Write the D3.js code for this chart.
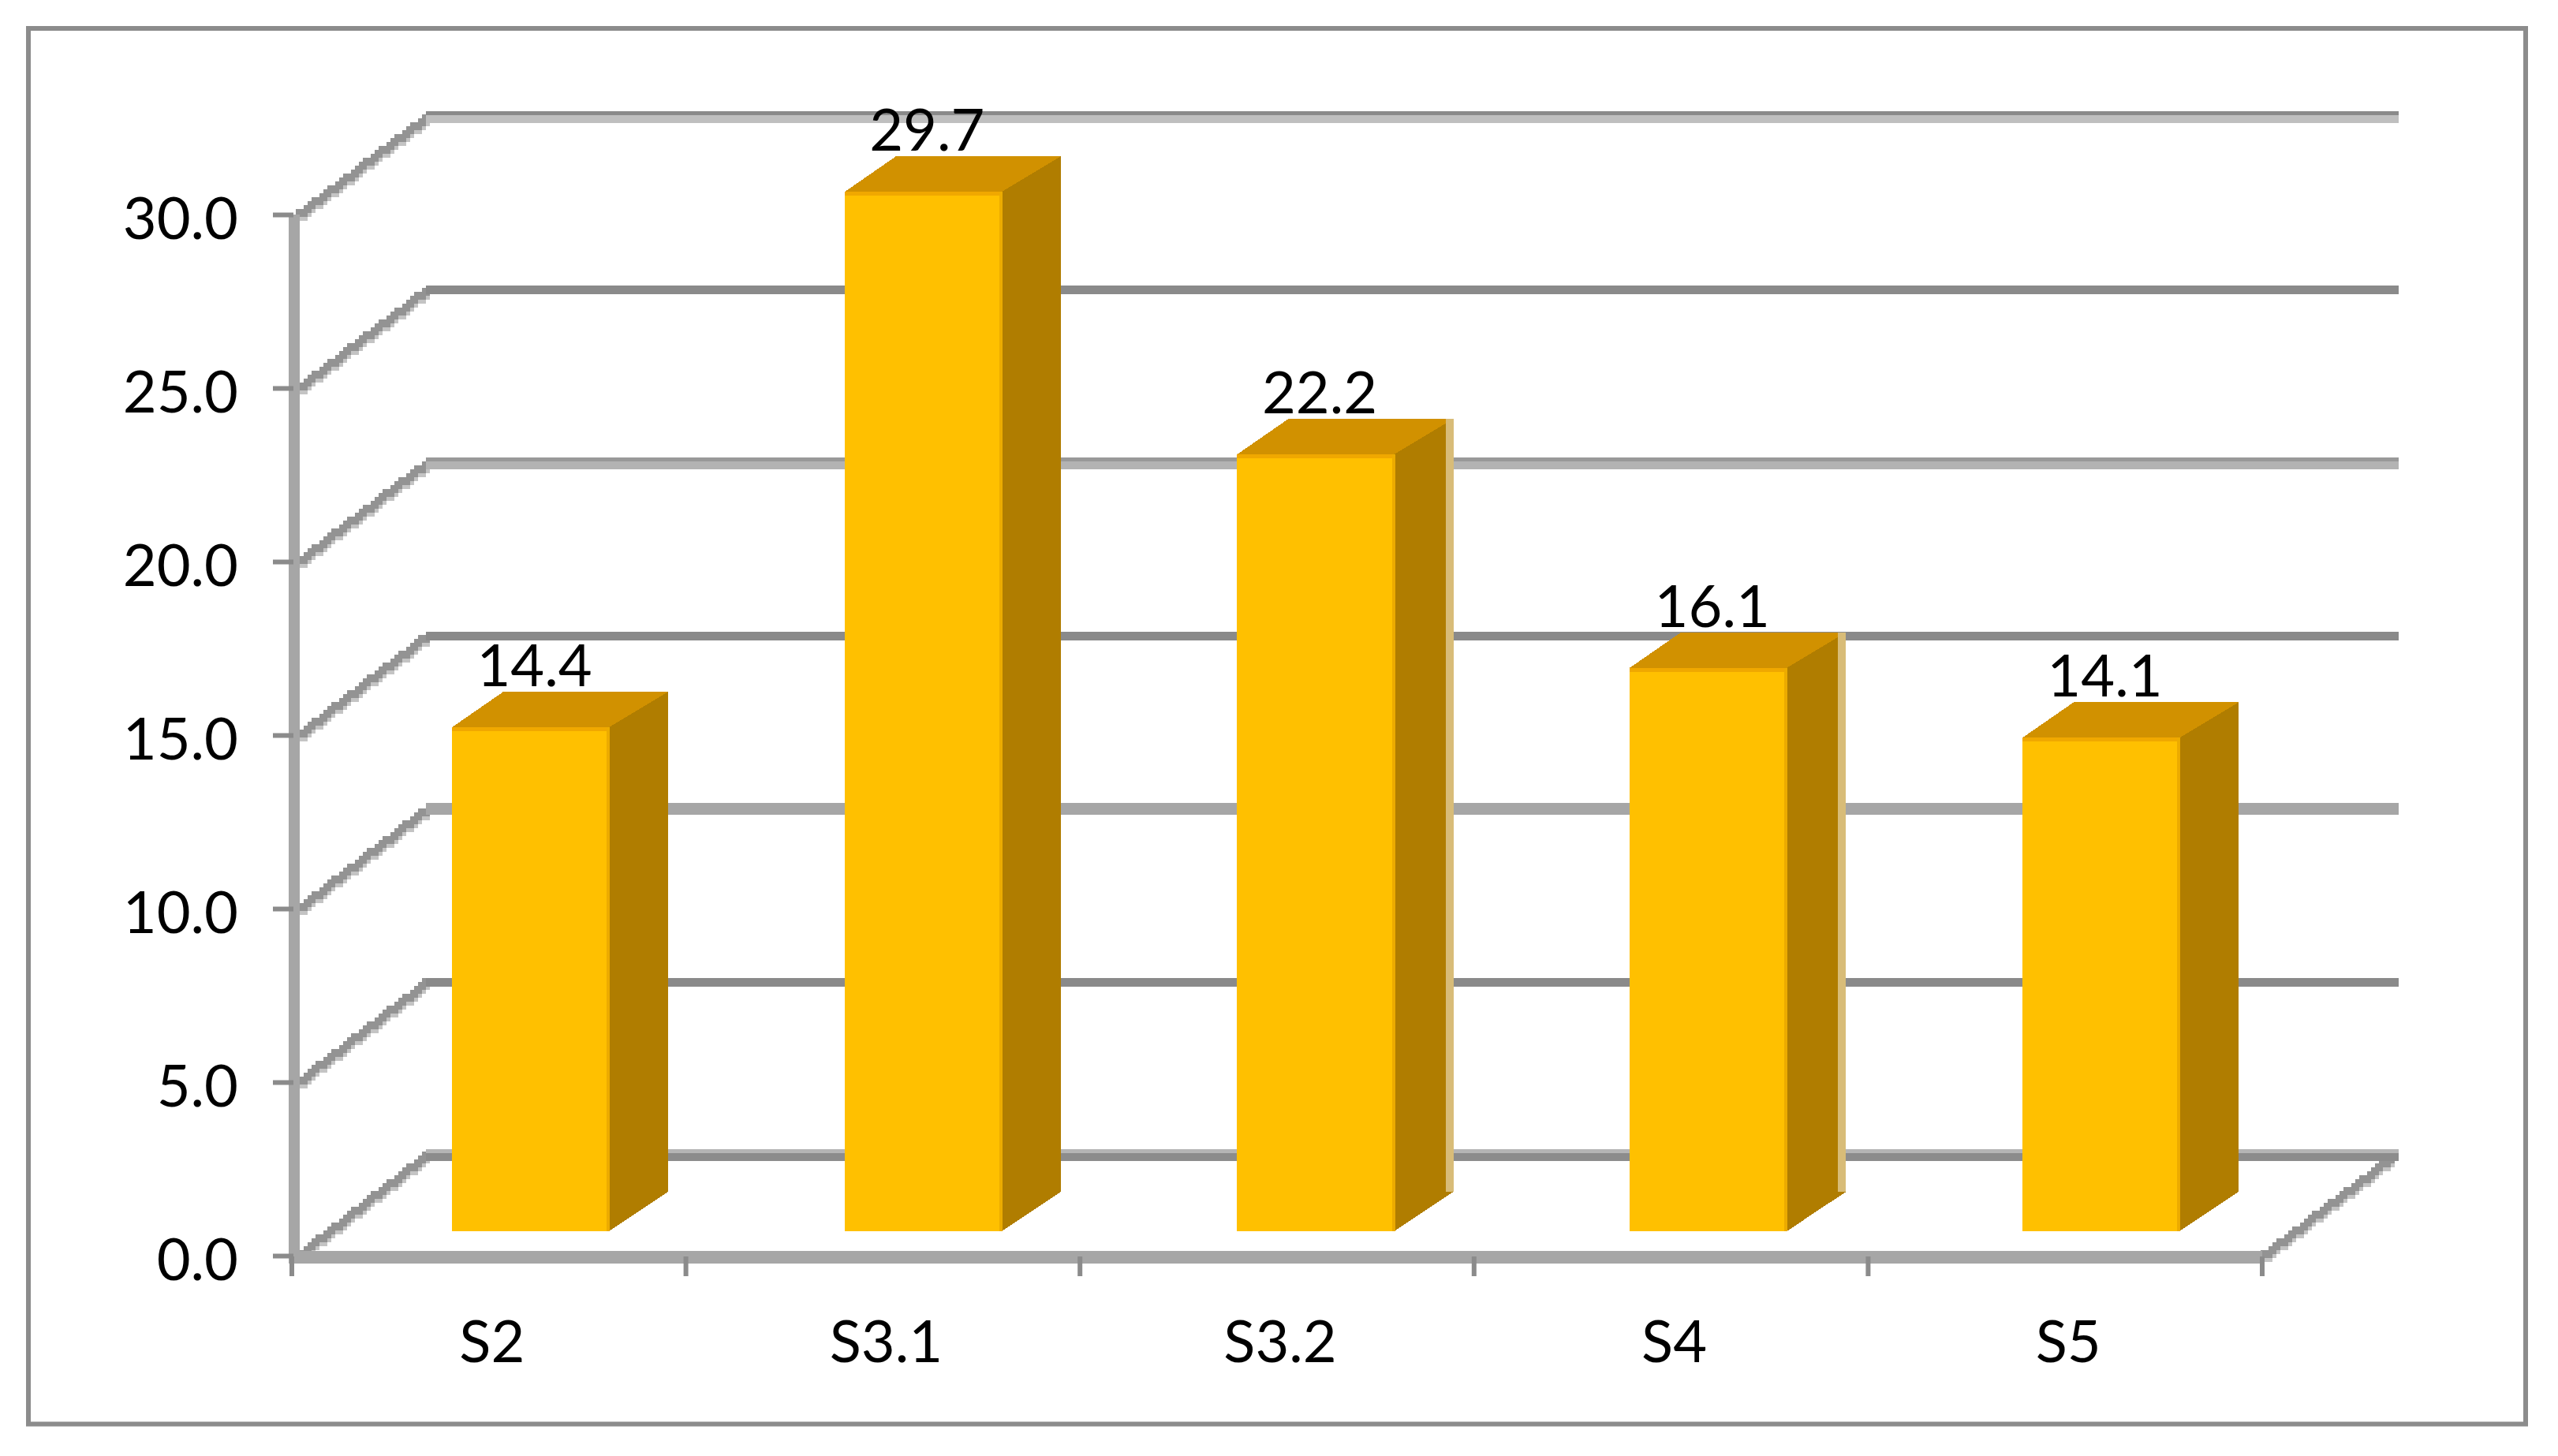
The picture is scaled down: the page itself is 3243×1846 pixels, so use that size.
<!DOCTYPE html>
<html><head><meta charset="utf-8">
<script src="https://cdn.jsdelivr.net/npm/d3@7"></script>
<style>html,body{margin:0;padding:0;background:#fff}svg{display:block}text{font-family:Lato,Carlito,sans-serif;fill:#000}</style>
</head><body><svg id="c" width="3243" height="1846"></svg>
<script>
const categories = ["S2","S3.1","S3.2","S4","S5"];
const values = [14.4,29.7,22.2,16.1,14.1];
const axisTicks = [0,5,10,15,20,25,30];
const paleEdgeCategories = ["S3.2","S4"];
const svg = d3.select("#c");
const W=3243,H=1846;
const x=d3.scaleBand().domain(categories).range([370,2868]).paddingInner(0.6).paddingOuter(0.3);
const xBar=d3.scaleBand().domain(categories).range([573,2763]).paddingInner(0.6).paddingOuter(0);
const y=d3.scaleLinear().domain([0,30]).range([1592,272]);
const yBack=d3.scaleLinear().domain([0,30]).range([1464.5,148.5]);
const barY=d3.scaleLinear().domain([0,30]).range([1561,230]);
const fs=74;
const DARK="#8a8a8a",LIGHT="#bfbfbf",MID="#a6a6a6";
// how each back-wall band is painted: [height, colour] from the top down
const gridBands=new Map([
 [30,[[5,DARK],[10,LIGHT]]],
 [25,[[11,DARK]]],
 [20,[[5,"#999"],[10,"#b3b3b3"]]],
 [15,[[11,DARK]]],
 [10,[[15,MID]]],
 [5,[[11,DARK]]],
 [0,[[5,"#b5b5b5"],[10,"#8c8c8c"]]]
]);
svg.append("rect").attr("width",W).attr("height",H).attr("fill","#fff");
svg.append("rect").attr("x",36).attr("y",36).attr("width",3166).attr("height",1769.5).attr("fill","#fff").attr("stroke","#8c8c8c").attr("stroke-width",6);
const x0=372,x1=2866,xB0=540,xB1=3041;
// stepped side-wall diagonals, built from the scales
function stair(g,xa,ya,xb,yb){
  const s=(yb-ya)/(xb-xa),cell=5;
  for(let px=xa;px<xb-4;px+=cell){
    const py=Math.round((ya+(px-xa)*s)/cell)*cell;
    g.append("rect").attr("x",px+cell).attr("y",py+5).attr("width",cell).attr("height",cell).attr("fill","#c4c4c4");
    g.append("rect").attr("x",px).attr("y",py-5).attr("width",cell*2).attr("height",cell*2).attr("fill","#939393");
  }
}
const diag=svg.append("g").attr("shape-rendering","crispEdges");
axisTicks.forEach(t=>stair(diag,x0+3,y(t),xB0,yBack(t)-2));
stair(diag,x1,y(0),xB1-8,yBack(0));
// back wall gridlines
const grid=svg.append("g").attr("shape-rendering","crispEdges");
axisTicks.forEach(t=>{
  const bands=gridBands.get(t);
  let top=Math.round(yBack(t)-d3.sum(bands,b=>b[0])/2);
  bands.forEach(([h,c])=>{
    grid.append("rect").attr("x",xB0).attr("width",xB1-xB0).attr("y",top).attr("height",h).attr("fill",c);
    top+=h;
  });
});
// axes
svg.append("rect").attr("x",366).attr("y",y(30)).attr("width",14).attr("height",y(0)-y(30)+10).attr("fill",MID);
svg.append("rect").attr("x",366).attr("y",1586).attr("width",x1-366+2).attr("height",16).attr("fill",MID);
const yAxis=d3.axisLeft(y).tickValues(axisTicks).tickSize(26).tickFormat(d3.format(".1f")).tickPadding(44);
const gy=svg.append("g").attr("transform","translate(372,0)").call(yAxis);
gy.select(".domain").remove();
gy.selectAll("line").attr("stroke","#8b8b8b").attr("stroke-width",6);
gy.selectAll("text").attr("font-size",fs).attr("dy","0.41em").style("font-family","Lato");
const tickXs=[...categories.map(c=>x(c)-0.3*x.step()),2868];
svg.append("g").selectAll("rect").data(tickXs).join("rect").attr("x",d=>d-3).attr("y",1593).attr("width",6).attr("height",25).attr("fill","#8b8b8b");
// bars
const rows=categories.map((c,i)=>({c,v:values[i]}));
const bars=svg.append("g").selectAll("g").data(rows).join("g").attr("shape-rendering","crispEdges");
const bx=d=>xBar(d.c), bw=xBar.bandwidth();
const topDy=45,sideDy=50,leftDx=65,rightDx=75,paleW=10;
bars.append("path").attr("fill","#b07d00").attr("d",d=>{const l=bx(d)+bw,t=barY(d.v),b=barY(0);return `M${l},${t}L${l+rightDx},${t-topDy}L${l+rightDx},${b-sideDy}L${l},${b}Z`});
bars.append("path").attr("fill","#d19100").attr("d",d=>{const l=bx(d),t=barY(d.v);return `M${l},${t}L${l+leftDx},${t-topDy}L${l+bw+rightDx},${t-topDy}L${l+bw},${t}Z`});
// pale right edge on some bars
bars.filter(d=>paleEdgeCategories.includes(d.c)).append("rect").attr("fill","#d8bc78")
 .attr("x",d=>bx(d)+bw+rightDx-paleW).attr("y",d=>barY(d.v)-topDy).attr("width",paleW).attr("height",d=>barY(0)-barY(d.v)-sideDy+topDy);
bars.append("rect").attr("fill","#ffc000").attr("x",bx).attr("y",d=>barY(d.v)).attr("width",bw).attr("height",d=>barY(0)-barY(d.v));
bars.append("rect").attr("fill","#f0a800").attr("x",d=>bx(d)).attr("y",d=>barY(d.v)).attr("width",bw).attr("height",5);
bars.append("rect").attr("fill","#ecab00").attr("x",d=>bx(d)+bw-3).attr("y",d=>barY(d.v)).attr("width",4).attr("height",d=>barY(0)-barY(d.v));
// value labels
svg.append("g").selectAll("text").data(rows).join("text")
 .attr("x",d=>bx(d)+bw/2+5).attr("y",d=>barY(d.v)-52).attr("text-anchor","middle").attr("font-size",fs).text(d=>d3.format(".1f")(d.v));
// category labels
svg.append("g").selectAll("text").data(categories).join("text")
 .attr("x",d=>x(d)+x.bandwidth()/2+4).attr("y",1727).attr("text-anchor","middle").attr("font-size",fs).text(d=>d);
</script></body></html>
